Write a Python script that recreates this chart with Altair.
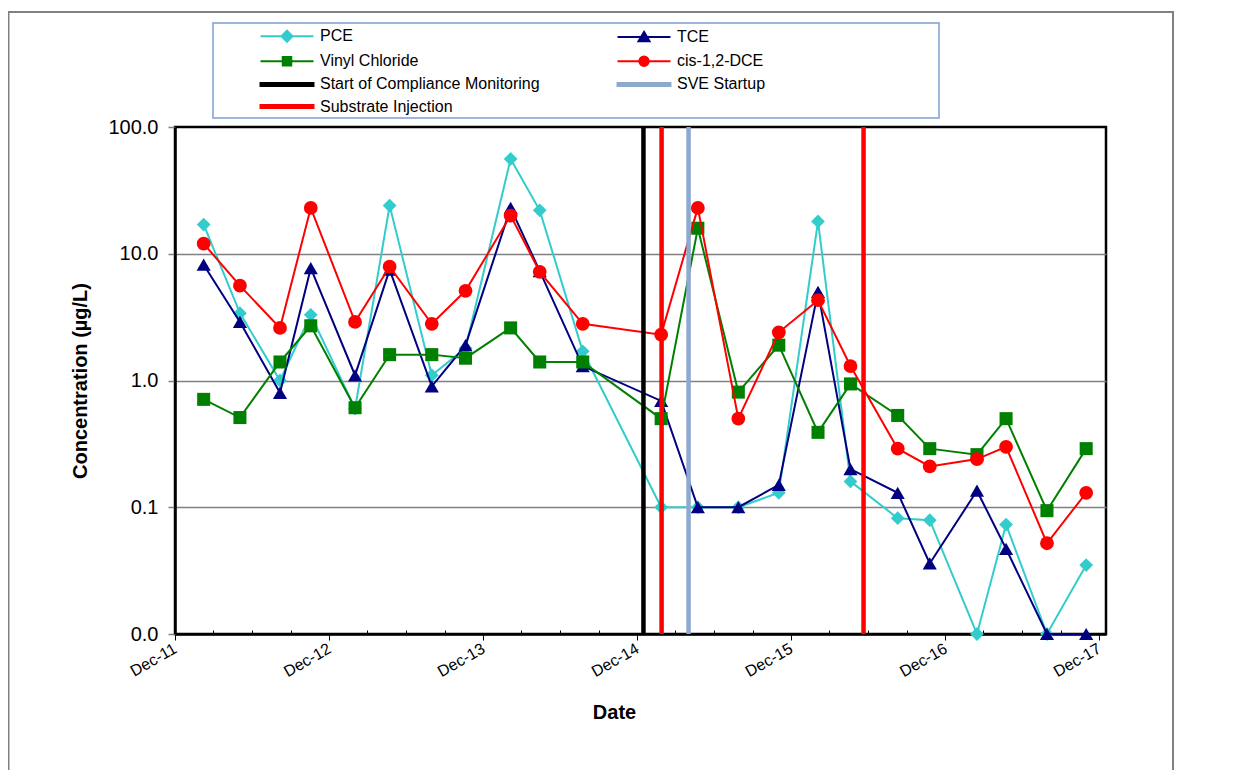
import altair as alt
import pandas as pd

# ---------------- data ----------------
dates = ["2012-02-07", "2012-05-03", "2012-08-06", "2012-10-18", "2013-01-31",
         "2013-04-23", "2013-08-01", "2013-10-20", "2014-02-04", "2014-04-14",
         "2014-07-25", "2015-01-27", "2015-04-24", "2015-07-29", "2015-11-02",
         "2016-02-03", "2016-04-20", "2016-08-10", "2016-10-25", "2017-02-14",
         "2017-04-24", "2017-07-30", "2017-10-31"]

pce = [17, 3.4, 1.0, 3.3, 0.6, 24, 1.1, 1.8, 56, 22, 1.7, 0.1, 0.1, 0.1, 0.13,
       18, 0.16, 0.082, 0.079, 0.01, 0.073, 0.01, 0.035]
tce = [8.2, 2.9, 0.8, 7.7, 1.1, 7.5, 0.9, 1.9, 23, 7.3, 1.3, 0.69, 0.1, 0.1, 0.15,
       5.0, 0.2, 0.13, 0.036, 0.135, 0.047, 0.01, 0.01]
vinyl = [0.71, 0.51, 1.4, 2.7, 0.61, 1.6, 1.6, 1.5, 2.6, 1.4, 1.4, 0.5, 15.9, 0.81,
         1.9, 0.39, 0.94, 0.53, 0.29, 0.26, 0.5, 0.094, 0.29]
dce = [12, 5.6, 2.6, 23, 2.9, 7.9, 2.8, 5.1, 20, 7.2, 2.8, 2.3, 23, 0.5, 2.4, 4.3,
       1.3, 0.29, 0.21, 0.24, 0.3, 0.052, 0.13]

series_names = ["PCE", "TCE", "Vinyl Chloride", "cis-1,2-DCE"]
series_values = [pce, tce, vinyl, dce]
marker_shapes = ["diamond", "triangle-up", "square", "circle"]
marker_sizes = [190, 200, 170, 190]

event_dates = ["2014-12-16", "2015-01-28", "2015-04-02", "2016-05-21"]
event_names = ["Start of Compliance Monitoring", "Substrate Injection",
               "SVE Startup", "Substrate Injection"]

legend_names = ["PCE", "TCE", "Vinyl Chloride", "cis-1,2-DCE",
                "Start of Compliance Monitoring", "SVE Startup", "Substrate Injection"]
legend_colors = ["#33CCCC", "#000080", "#008000", "#FF0000",
                 "#000000", "#8EA9CF", "#FF0000"]
legend_symbols = [
    "M-5.3,0L5.3,0M0,-1.1L1.1,0L0,1.1L-1.1,0Z",
    "M-5.3,0L5.3,0M0,-1L1.1,0.85L-1.1,0.85Z",
    "M-5.3,0L5.3,0M-0.85,-0.85L0.85,-0.85L0.85,0.85L-0.85,0.85Z",
    "M-5.3,0L5.3,0M-0.95,0A0.95,0.95,0,1,1,0.95,0A0.95,0.95,0,1,1,-0.95,0Z",
    "M-5.3,-0.3L5.3,-0.3L5.3,0.3L-5.3,0.3Z",
    "M-5.3,-0.3L5.3,-0.3L5.3,0.3L-5.3,0.3Z",
    "M-5.3,-0.3L5.3,-0.3L5.3,0.3L-5.3,0.3Z",
]

y_ticks = [0.01, 0.1, 1, 10, 100]
x_tick_years = [2011, 2012, 2013, 2014, 2015, 2016, 2017]
x_minor_months = [3, 6, 9]

# ---------------- tables ----------------
rows = []
for name, vals in zip(series_names, series_values):
    for d, v in zip(dates, vals):
        rows.append({"date": d, "series": name, "value": v})
df = pd.DataFrame(rows)
events = pd.DataFrame({"date": event_dates, "name": event_names})
legend_df = pd.DataFrame({"name": legend_names})

FONT = "Liberation Sans"

x_scale = alt.Scale(type="utc", domain=[alt.DateTime(year=2011, month=12, date=1, utc=True),
                                        alt.DateTime(year=2017, month=12, date=17, utc=True)])
y_scale = alt.Scale(type="log", domain=[0.01, 100])
color_scale = alt.Scale(domain=legend_names, range=legend_colors)

x_axis = alt.Axis(
    orient="bottom",
    title="Date", values=[alt.DateTime(year=y, month=12, date=1, utc=True) for y in x_tick_years],
    labelExpr="utcFormat(datum.value, '%b-%y')", labelAngle=-30, labelAlign="right",
    labelBaseline="top", labelFontSize=16, labelPadding=0, labelOffset=-4,
    tickColor="black", tickSize=6, tickWidth=1, domainColor="black", domainWidth=2.5, grid=False,
    titleFontSize=20, titleFontWeight="bold", titleX=439, titleY=78,
    titleBaseline="middle", titleAlign="center",
)
minor_axis = alt.Axis(
    orient="bottom", title=None, labels=False, domain=False, grid=False, offset=-4,
    values=[alt.DateTime(year=y, month=m, date=1, utc=True)
            for y in x_tick_years[1:] for m in x_minor_months],
    tickColor="black", tickSize=4, tickWidth=1,
)
y_axis = alt.Axis(
    title="Concentration (µg/L)", values=y_ticks, format=".1f",
    labelFontSize=20, labelPadding=10, tickColor="#808080", tickSize=7, tickWidth=1.5,
    domainColor="black", domainWidth=2.5,
    grid=True, gridColor="#808080", gridWidth=1.5,
    gridOpacity={"condition": {"test": "datum.value < 0.05 || datum.value > 50", "value": 0}, "value": 1},
    titleFontSize=20, titleFontWeight="bold", titleX=-95, titleY=253.5,
    titleBaseline="middle", titleAlign="center", titleAngle=-90,
)

x_main = alt.X("date:T", scale=x_scale, axis=x_axis)
x_plain = alt.X("date:T", scale=x_scale, axis=None)
y_enc = alt.Y("value:Q", scale=y_scale, axis=y_axis)

one = pd.DataFrame({"k": [0]})

layers = []
# outer chart-area frame (decoration)
layers.append(alt.Chart(one).mark_rect(fill="white", fillOpacity=0, stroke="#808080", strokeWidth=2).encode(
    x=alt.value(-166.5), x2=alt.value(998), y=alt.value(-115), y2=alt.value(700)))
# legend frame (decoration)
layers.append(alt.Chart(one).mark_rect(fill="white", stroke="#7F9FCF", strokeWidth=1.5).encode(
    x=alt.value(38), x2=alt.value(764), y=alt.value(-104), y2=alt.value(-9)))

first = True
for name, shape, size in zip(series_names, marker_shapes, marker_sizes):
    base = alt.Chart(df).transform_filter(alt.datum.series == name)
    layers.append(base.mark_line(strokeWidth=2).encode(
        x=x_main if first else x_plain, y=y_enc,
        color=alt.Color("series:N", scale=color_scale, legend=None)))
    first = False
    layers.append(base.mark_point(shape=shape, size=size, filled=True, opacity=1, clip=False).encode(
        x=x_plain, y=y_enc, color=alt.Color("series:N", scale=color_scale, legend=None)))

layers.append(alt.Chart(events).mark_rule(strokeWidth=4.5).encode(
    x=x_plain, color=alt.Color("name:N", scale=color_scale, legend=None)))

# minor (quarterly) ticks of the date axis, pointing into the plot
layers.append(alt.Chart(events).transform_filter(alt.datum.name == "__none__").mark_point().encode(
    x=alt.X("date:T", scale=x_scale, axis=minor_axis)))

# legend-only layer (no visible marks)
leg = alt.Legend(title=None)
layers.append(alt.Chart(legend_df).transform_filter(alt.datum.name == "__none__").mark_point(
    filled=True, size=100, strokeWidth=2, opacity=1).encode(
    fill=alt.Fill("name:N", scale=alt.Scale(domain=legend_names, range=legend_colors), legend=leg),
    stroke=alt.Stroke("name:N", scale=alt.Scale(domain=legend_names, range=legend_colors), legend=leg),
    shape=alt.Shape("name:N", scale=alt.Scale(domain=legend_names, range=legend_symbols), legend=leg),
))

chart = alt.layer(*layers).resolve_scale(
    fill="independent", stroke="independent", shape="independent"
).resolve_axis(x="independent").properties(
    width=931, height=507,
    autosize=alt.AutoSizeParams(type="none"),
    padding={"left": 167, "top": 119, "right": 121, "bottom": 136},
    background="white",
).configure_view(stroke="black", strokeWidth=2.5).configure_axis(
    labelFont=FONT, titleFont=FONT, labelColor="black", titleColor="black",
).configure_legend(
    orient="none", legendX=85, legendY=-99, columns=2, direction="horizontal",
    columnPadding=73, rowPadding=6.2, labelLimit=0,
    labelFont=FONT, labelFontSize=16, labelColor="black", symbolSize=100, symbolStrokeWidth=2,
    symbolOffset=19, labelOffset=25, padding=0,
)

chart.save("out.html", embed_options={"renderer": "svg", "actions": False})
